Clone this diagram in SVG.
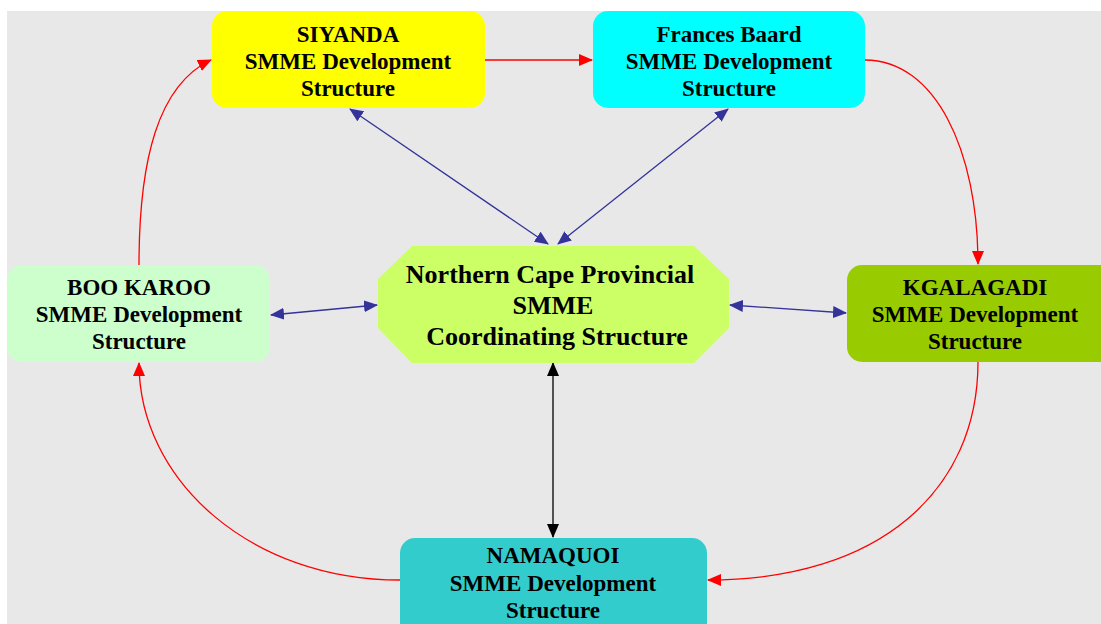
<svg xmlns="http://www.w3.org/2000/svg" width="1101" height="624" viewBox="0 0 1101 624">
<style>
.t{font-family:"Liberation Serif","Times New Roman",serif;font-weight:bold;font-size:23px;fill:#000;text-anchor:middle}
.c{font-size:26px}
.r{fill:none;stroke:#FF0000;stroke-width:1.3}
.b{fill:none;stroke:#333399;stroke-width:1.3}
.k{fill:none;stroke:#000;stroke-width:1.3}
</style>
<defs>
<marker id="ar" markerUnits="userSpaceOnUse" markerWidth="14" markerHeight="12" refX="13" refY="6" orient="auto-start-reverse" viewBox="0 0 14 12"><path d="M0,0 L14,6 L0,12 Z" fill="#FF0000"/></marker>
<marker id="ab" markerUnits="userSpaceOnUse" markerWidth="14" markerHeight="12" refX="13" refY="6" orient="auto-start-reverse" viewBox="0 0 14 12"><path d="M0,0 L14,6 L0,12 Z" fill="#333399"/></marker>
<marker id="ak" markerUnits="userSpaceOnUse" markerWidth="14" markerHeight="12" refX="13" refY="6" orient="auto-start-reverse" viewBox="0 0 14 12"><path d="M0,0 L14,6 L0,12 Z" fill="#000"/></marker>
</defs>
<rect x="7" y="11" width="1094" height="613" fill="#E8E8E8"/>
<g id="connectors">
<path class="r" d="M485,60 L592,60" marker-end="url(#ar)"/>
<path class="r" d="M865,60 C935,60 978,150 978,264" marker-end="url(#ar)"/>
<path class="r" d="M978,362 C978,490 880,580 708,580" marker-end="url(#ar)"/>
<path class="r" d="M400,580 C250,580 139,480 139,363" marker-end="url(#ar)"/>
<path class="r" d="M139,265 C139,160 158,85 211,60" marker-end="url(#ar)"/>
<path class="b" d="M350,109 L548,244" marker-start="url(#ab)" marker-end="url(#ab)"/>
<path class="b" d="M728,109 L558,244" marker-start="url(#ab)" marker-end="url(#ab)"/>
<path class="b" d="M271,315 L377,305" marker-start="url(#ab)" marker-end="url(#ab)"/>
<path class="b" d="M730,305 L846,313" marker-start="url(#ab)" marker-end="url(#ab)"/>
<path class="k" d="M553,363 L553,537" marker-start="url(#ak)" marker-end="url(#ak)"/>
</g>
<g id="siyanda">
<rect x="212" y="11" width="273" height="97" rx="15" fill="#FFFF00"/>
<text class="t" x="348" y="42">SIYANDA</text>
<text class="t" x="348" y="69">SMME Development</text>
<text class="t" x="348" y="96">Structure</text>
</g>
<g id="frances">
<rect x="593" y="11" width="272" height="97" rx="15" fill="#00FFFF"/>
<text class="t" x="729" y="42">Frances Baard</text>
<text class="t" x="729" y="69">SMME Development</text>
<text class="t" x="729" y="96">Structure</text>
</g>
<g id="bookaroo">
<rect x="7" y="265" width="263" height="97" rx="15" fill="#CCFFCC"/>
<text class="t" x="139" y="295">BOO KAROO</text>
<text class="t" x="139" y="322">SMME Development</text>
<text class="t" x="139" y="349">Structure</text>
</g>
<g id="kgalagadi">
<rect x="847" y="265" width="270" height="97" rx="15" fill="#99CC00"/>
<text class="t" x="975" y="295">KGALAGADI</text>
<text class="t" x="975" y="322">SMME Development</text>
<text class="t" x="975" y="349">Structure</text>
</g>
<g id="namaquoi">
<rect x="400" y="538" width="307" height="100" rx="15" fill="#33CCCC"/>
<text class="t" x="553" y="563">NAMAQUOI</text>
<text class="t" x="553" y="591">SMME Development</text>
<text class="t" x="553" y="618">Structure</text>
</g>
<g id="center">
<polygon points="412,246 694,246 729,279 729,328 694,363 412,363 378,328 378,279" fill="#CCFF66"/>
<text class="t c" x="550" y="283">Northern Cape Provincial</text>
<text class="t c" x="553" y="314">SMME</text>
<text class="t c" x="557" y="345">Coordinating Structure</text>
</g>
</svg>
